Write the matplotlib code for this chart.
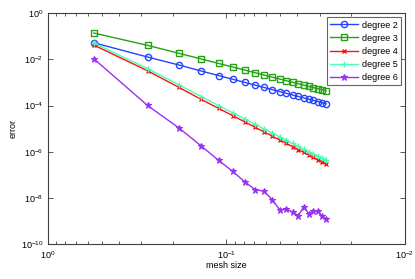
import numpy as np
import matplotlib
matplotlib.use("Agg")
from matplotlib import pyplot as plt
from matplotlib.ticker import LogLocator, NullFormatter

plt.rcParams['font.family'] = ['Liberation Sans', 'DejaVu Sans']
plt.rcParams['mathtext.default'] = 'regular'

# mesh sizes (h = c / n, n = 1..20)
mesh = [0.554, 0.277, 0.1847, 0.1385, 0.1108, 0.0923, 0.0791, 0.06925, 0.06156, 0.0554,
        0.05036, 0.04617, 0.04262, 0.03957, 0.03693, 0.03463, 0.03259, 0.03078, 0.02916, 0.0277]

err_deg2 = [0.053, 0.0128, 0.00575, 0.00316, 0.00201, 0.00139, 0.00102, 0.000775, 0.000610, 0.000492,
            0.000406, 0.000340, 0.000289, 0.000249, 0.000216, 0.000190, 0.000168, 0.000149, 0.000134, 0.000121]
err_deg3 = [0.14, 0.041, 0.0185, 0.0105, 0.00675, 0.00471, 0.00348, 0.00267, 0.00212, 0.00172,
            0.00143, 0.00120, 0.00103, 0.000887, 0.000774, 0.000682, 0.000605, 0.000542, 0.000486, 0.000440]
err_deg4 = [0.0423, 0.00324, 0.000617, 0.000186, 7.62e-5, 3.68e-5, 1.99e-5, 1.16e-5, 7.28e-6, 4.76e-6,
            3.26e-6, 2.30e-6, 1.67e-6, 1.24e-6, 9.42e-7, 7.28e-7, 5.70e-7, 4.54e-7, 3.66e-7, 2.98e-7]
err_deg5 = [0.052, 0.00398, 0.000794, 0.000245, 1.0e-4, 4.9e-5, 2.63e-5, 1.55e-5, 9.77e-6, 6.46e-6,
            4.47e-6, 3.16e-6, 2.29e-6, 1.70e-6, 1.29e-6, 1.0e-6, 7.94e-7, 6.31e-7, 5.13e-7, 4.27e-7]
err_deg6 = [0.0108, 1.02e-4, 1.07e-5, 1.78e-6, 4.26e-7, 1.41e-7, 5.0e-8, 2.29e-8, 1.95e-8, 8.3e-9,
            3.09e-9, 3.16e-9, 2.45e-9, 1.70e-9, 4.07e-9, 2.09e-9, 2.75e-9, 2.57e-9, 1.58e-9, 1.23e-9]

fig = plt.figure(figsize=(4.15, 2.79), dpi=100)
ax = fig.add_axes([0.1157, 0.1254, 0.860, 0.8268])

lw = 1.0
ax.loglog(mesh, err_deg2, '-o', color='#2444ff', lw=lw, ms=4.5, mfc='none', mew=1.0, label='degree 2')
ax.loglog(mesh, err_deg3, '-s', color='#26a014', lw=lw, ms=4.5, mfc='none', mew=1.0, label='degree 3')
ax.loglog(mesh, err_deg4, '-x', color='#ff1010', lw=lw, ms=3.5, mew=1.0, label='degree 4')
ax.loglog(mesh, err_deg5, '-+', color='#44ffb4', lw=lw, ms=5, mew=1.0, label='degree 5')
ax.loglog(mesh, err_deg6, '-*', color='#9a30f0', lw=lw, ms=4.5, mew=0.8, label='degree 6')

ax.set_xlim(1, 0.01)
ax.set_ylim(1e-10, 1)
ax.set_yticks([1e0, 1e-2, 1e-4, 1e-6, 1e-8, 1e-10])
ax.yaxis.set_minor_locator(LogLocator(base=10, subs=[]))
ax.xaxis.set_minor_locator(LogLocator(base=10, subs=np.arange(2, 10)))
ax.xaxis.set_minor_formatter(NullFormatter())

for s in ax.spines.values():
    s.set_color('#404040')
    s.set_linewidth(0.8)
ax.tick_params(which='both', direction='in', top=True, right=True, color='#404040',
               labelsize=6.5, width=0.6)
ax.tick_params(which='major', length=3.5)
ax.tick_params(which='minor', length=2)

ax.set_xlabel('mesh size', fontsize=6.5)
ax.set_ylabel('error', fontsize=6.5)
ax.xaxis.set_label_coords(0.5, -0.075)
ax.yaxis.set_label_coords(-0.085, 0.5)

leg = ax.legend(loc='upper right', fontsize=6.5, handlelength=3.1, fancybox=False,
                borderaxespad=0.4, labelspacing=0.45, borderpad=0.4, handletextpad=0.4)
leg.get_frame().set_edgecolor('#404040')
leg.get_frame().set_linewidth(0.8)

fig.savefig('out.png', dpi=100)
